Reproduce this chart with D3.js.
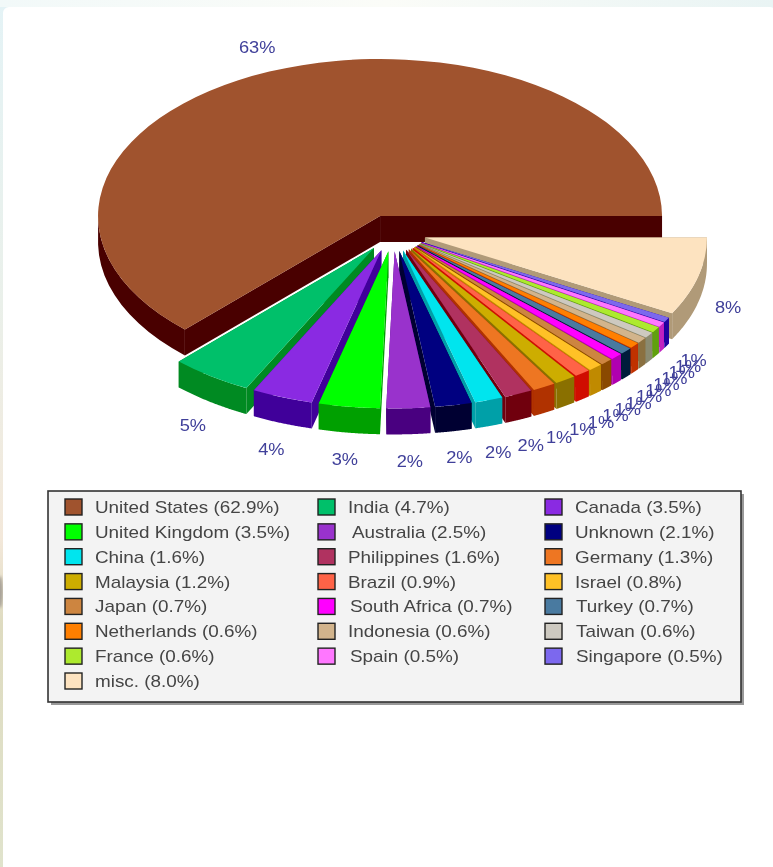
<!DOCTYPE html>
<html lang="en">
<head>
<meta charset="UTF-8" />
<title>index</title>
<script src="https://d3js.org/d3.v7.min.js"></script>
<style>
  html, body { margin: 0; padding: 0; background: #fff; overflow: hidden; }
  svg { display: block; font-family: "Liberation Sans", Arial, sans-serif; }
</style>
</head>
<body>
<div id="my_dataviz"></div>
<script>
// values, in pie order (same as legend order, row by row)
var countries = ["United States", "India", "Canada", "United Kingdom", "Australia", "Unknown",
  "China", "Philippines", "Germany", "Malaysia", "Brazil", "Israel", "Japan", "South Africa",
  "Turkey", "Netherlands", "Indonesia", "Taiwan", "France", "Spain", "Singapore", "misc."];
var shares = [62.9, 4.7, 3.5, 3.5, 2.5, 2.1, 1.6, 1.6, 1.3, 1.2, 0.9, 0.8, 0.7, 0.7, 0.7,
  0.6, 0.6, 0.6, 0.6, 0.5, 0.5, 8.0];
var sliceLabels = ["63%", "5%", "4%", "3%", "2%", "2%", "2%", "2%", "1%", "1%", "1%", "1%",
  "1%", "1%", "1%", "1%", "1%", "1%", "1%", "1%", "1%", "8%"];
var topColors = ["#a0522d", "#00c06a", "#8a2be2", "#00ff00", "#9932cc", "#000080", "#00e5ee",
  "#b03060", "#ee7621", "#cdad00", "#ff6347", "#ffc125", "#cd853f", "#ff00ff", "#4a7aa0",
  "#ff7f00", "#d2b48c", "#cdc9c0", "#adea2f", "#ff77ff", "#7b68ee", "#fde3c0"];
var sideColors = ["#4a0000", "#008a20", "#40009a", "#00a000", "#4a0080", "#000033", "#00a0a8",
  "#700010", "#b03000", "#8a7000", "#d01000", "#c08a00", "#8a4a00", "#b000b0", "#001a3a",
  "#c03000", "#8a7040", "#8a8a70", "#60a010", "#c020c0", "#2000a0", "#b09a78"];

var width = 773, height = 867;
var cx = 393, cy = 233;        // pie centre before the slices are pulled apart
var radius = 282, tilt = 0.557;
var explode = 33, depth = 26;
var textStretch = 1.18;        // the reference text is wider than the font

var svg = d3.select("#my_dataviz").append("svg")
  .attr("width", width).attr("height", height);

var defs = svg.append("defs");
defs.append("filter").attr("id", "soft").append("feGaussianBlur").attr("stdDeviation", 0.5);
defs.append("filter").attr("id", "softer").append("feGaussianBlur").attr("stdDeviation", 1.5);
var edge = defs.append("linearGradient").attr("id", "edge").attr("x1", 0).attr("x2", 0).attr("y1", 0).attr("y2", 1);
edge.append("stop").attr("offset", "0%").attr("stop-color", "#e4f3f6");
edge.append("stop").attr("offset", "35%").attr("stop-color", "#eaf0ea");
edge.append("stop").attr("offset", "62%").attr("stop-color", "#f3e8da");
edge.append("stop").attr("offset", "72%").attr("stop-color", "#dedbc0");
edge.append("stop").attr("offset", "100%").attr("stop-color", "#e0e3cc");
var strip = defs.append("linearGradient").attr("id", "strip");
strip.append("stop").attr("offset", "0%").attr("stop-color", "#f2f9f9");
strip.append("stop").attr("offset", "50%").attr("stop-color", "#fbfcf8");
strip.append("stop").attr("offset", "100%").attr("stop-color", "#e9f4f4");

// page background behind the white panel
svg.append("rect").attr("width", width).attr("height", height).attr("fill", "url(#edge)");
svg.append("rect").attr("width", width).attr("height", 7).attr("fill", "url(#strip)");
svg.append("ellipse").attr("cx", 0).attr("cy", 592).attr("rx", 3).attr("ry", 16)
  .attr("fill", "#a8a298").attr("filter", "url(#softer)");
svg.append("rect").attr("x", 3).attr("y", 7).attr("width", width).attr("height", height)
  .attr("rx", 6).attr("fill", "#fff");

var chart = svg.append("g").attr("filter", "url(#soft)");

// pie() uses 0 = 12 o'clock, so start at 3 o'clock and run counter clockwise
var slices = d3.pie().sort(null).startAngle(Math.PI / 2).endAngle(Math.PI / 2 - 2 * Math.PI)
  .value(function(d) { return d; })(shares);

var arc = d3.arc().innerRadius(0).outerRadius(radius);
var outline = d3.line();

function midAngle(d) { return (d.startAngle + d.endAngle) / 2; }
function offsetX(d) { return cx + explode * Math.sin(midAngle(d)); }
function offsetY(d) { return cy - explode * tilt * Math.cos(midAngle(d)); }
function rimPoint(d, a, drop) {
  return [offsetX(d) + radius * Math.sin(a), offsetY(d) - radius * tilt * Math.cos(a) + drop];
}
// side of a slice: the two cut faces and the part of the rim facing the viewer
function wallPaths(d) {
  var apex = [offsetX(d), offsetY(d)];
  var apexLow = [apex[0], apex[1] + depth];
  var paths = [];
  [d.startAngle, d.endAngle].forEach(function(a) {
    paths.push(outline([apex, rimPoint(d, a, 0), rimPoint(d, a, depth), apexLow]));
  });
  var angles = d3.range(0, 61).map(function(i) {
    return d.startAngle + (d.endAngle - d.startAngle) * i / 60;
  }).filter(function(a) { return Math.cos(a) < 0; });
  if (angles.length > 1) {
    var top = angles.map(function(a) { return rimPoint(d, a, 0); });
    var low = angles.slice().reverse().map(function(a) { return rimPoint(d, a, depth); });
    paths.push(outline(top.concat(low)));
  }
  return paths;
}

// paint from back to front
var order = slices.map(function(d, i) { return { d: d, i: i }; })
  .sort(function(a, b) { return d3.ascending(-Math.cos(midAngle(a.d)), -Math.cos(midAngle(b.d))); });

var pieces = chart.selectAll("g.slice").data(order).enter().append("g").attr("class", "slice");
pieces.selectAll("path.wall").data(function(o) {
    return wallPaths(o.d).map(function(p) { return { p: p, i: o.i }; });
  }).enter().append("path").attr("class", "wall")
  .attr("d", function(w) { return w.p; })
  .attr("fill", function(w) { return sideColors[w.i]; });
pieces.append("path")
  .attr("transform", function(o) { return "translate(" + offsetX(o.d) + "," + offsetY(o.d) + ") scale(1," + tilt + ")"; })
  .attr("d", function(o) { return arc(o.d); })
  .attr("fill", function(o) { return topColors[o.i]; });

// percent labels round the pie, the power flattens the ellipse a bit at the sides
function labelX(d) { return cx + 346 * Math.sin(midAngle(d)); }
function labelY(d) {
  var c = -Math.cos(midAngle(d));
  return cy + 15 + 215 * (c < 0 ? -1 : 1) * Math.pow(Math.abs(c), 0.9) + 4;
}
chart.selectAll("text.pct").data(slices).enter().append("text").attr("class", "pct")
  .attr("transform", function(d) { return "translate(" + labelX(d) + "," + labelY(d) + ") scale(1.14,1)"; })
  .attr("text-anchor", "middle")
  .attr("font-size", 16)
  .attr("fill", "#40409a")
  .text(function(d, i) { return sliceLabels[i]; });

// legend
var legend = chart.append("g");
legend.append("rect").attr("x", 51).attr("y", 494).attr("width", 693).attr("height", 211)
  .attr("fill", "#999").attr("filter", "url(#soft)");
legend.append("rect").attr("x", 48).attr("y", 491).attr("width", 693).attr("height", 211)
  .attr("fill", "#f3f3f3").attr("stroke", "#333").attr("stroke-width", 1.6);

var colX = d3.scaleOrdinal().domain([0, 1, 2]).range([65, 318, 545]);
var rowY = d3.scaleLinear().domain([0, 7]).range([507, 681]);
// a few legend texts sit further right in the reference
var textNudge = { "Australia": 4, "South Africa": 2, "Spain": 2, "Turkey": 1, "Taiwan": 1, "Singapore": 1 };

var items = legend.selectAll("g.item").data(countries).enter().append("g").attr("class", "item")
  .attr("transform", function(d, i) { return "translate(" + colX(i % 3) + "," + rowY(Math.floor(i / 3)) + ")"; });
items.append("rect").attr("y", -8).attr("width", 17).attr("height", 16)
  .attr("fill", function(d, i) { return topColors[i]; })
  .attr("stroke", "#222").attr("stroke-width", 1.4);
items.append("text")
  .attr("transform", function(d) {
    return "translate(" + (30 + (textNudge[d] || 0)) + ",6) scale(" + textStretch + ",1)";
  })
  .attr("font-size", 16).attr("fill", "#444")
  .text(function(d, i) { return d + " (" + shares[i].toFixed(1) + "%)"; });
</script>
</body>
</html>
